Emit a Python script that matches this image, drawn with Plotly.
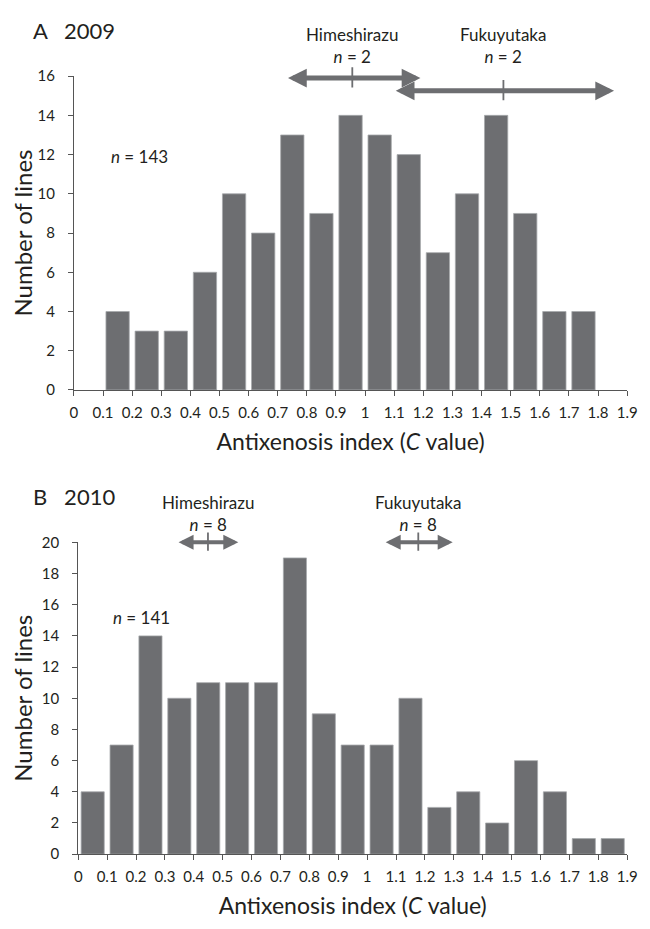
import plotly.graph_objects as go

# ---------------- data ----------------
bin_width = 0.1
bin_left_2009 = [0.1, 0.2, 0.3, 0.4, 0.5, 0.6, 0.7, 0.8, 0.9, 1.0, 1.1, 1.2, 1.3, 1.4, 1.5, 1.6, 1.7]
counts_2009 = [4, 3, 3, 6, 10, 8, 13, 9, 14, 13, 12, 7, 10, 14, 9, 4, 4]

bin_left_2010 = [0.0, 0.1, 0.2, 0.3, 0.4, 0.5, 0.6, 0.7, 0.8, 0.9, 1.0, 1.1, 1.2, 1.3, 1.4, 1.5, 1.6, 1.7, 1.8]
counts_2010 = [4, 7, 14, 10, 11, 11, 11, 19, 9, 7, 7, 10, 3, 4, 2, 6, 4, 1, 1]

tick_values = [round(i * 0.1, 1) for i in range(20)]
tick_labels = ["0", "0.1", "0.2", "0.3", "0.4", "0.5", "0.6", "0.7", "0.8", "0.9",
               "1", "1.1", "1.2", "1.3", "1.4", "1.5", "1.6", "1.7", "1.8", "1.9"]

# reference cultivars: (min, mean, max) of C value, n
cultivars = ["Himeshirazu", "Fukuyutaka"]
ref_2009_min = [0.73, 1.10]
ref_2009_mean = [0.956, 1.475]
ref_2009_max = [1.19, 1.855]
ref_2009_n = [2, 2]
ref_2010_min = [0.342, 1.059]
ref_2010_mean = [0.449, 1.177]
ref_2010_max = [0.554, 1.296]
ref_2010_n = [8, 8]

total_2009 = 143
total_2010 = 141

# ---------------- style ----------------
BAR = "#6d6e71"
TXT = "#231f20"
AX = "#555555"
FONT = "Lato, Carlito, 'Open Sans', sans-serif"
W, H = 650, 929
OFF = 8  # page body margin compensation (px)


def px_x(p):
    return (p - OFF) / W


def px_y(p):
    return 1 - (p - OFF) / H


fig = go.Figure()

centers_2009 = [b + bin_width / 2 for b in bin_left_2009]
centers_2010 = [b + bin_width / 2 for b in bin_left_2010]

fig.add_trace(go.Bar(x=centers_2009, y=counts_2009, xaxis="x", yaxis="y",
                     marker=dict(color=BAR, line=dict(color="#a7a9ac", width=0.8)),
                     showlegend=False, hoverinfo="x+y"))
fig.add_trace(go.Bar(x=centers_2010, y=counts_2010, xaxis="x2", yaxis="y2",
                     marker=dict(color=BAR, line=dict(color="#a7a9ac", width=0.8)),
                     showlegend=False, hoverinfo="x+y"))

xcommon = dict(range=[0, 1.9], tickmode="array", tickvals=tick_values, ticktext=tick_labels,
               ticks="outside", ticklen=5, tickwidth=1, tickcolor=AX, showline=True,
               linecolor=AX, linewidth=1, showgrid=False, zeroline=False,
               tickfont=dict(family=FONT, size=15, color=TXT), ticklabelstandoff=4,
               title=dict(text="Antixenosis index (<i>C</i> value)",
                          font=dict(family=FONT, size=23, color=TXT), standoff=13))
ycommon = dict(ticks="outside", ticklen=5, tickwidth=1, tickcolor=AX, showline=True,
               linecolor=AX, linewidth=1, showgrid=False, zeroline=False, dtick=2,
               tickfont=dict(family=FONT, size=15, color=TXT), ticklabelstandoff=10,
               title=dict(text="Number of lines",
                          font=dict(family=FONT, size=24, color=TXT), standoff=9))

fig.update_layout(
    width=W, height=H,
    margin=dict(l=0, r=0, t=0, b=0),
    paper_bgcolor="white", plot_bgcolor="white",
    bargap=0.2,
    font=dict(family=FONT, color=TXT),
    xaxis=dict(domain=[px_x(71.3), px_x(636.7)], anchor="y", **xcommon),
    yaxis=dict(domain=[px_y(387.3), px_y(67.3)], anchor="x", range=[0, 16], **ycommon),
    xaxis2=dict(domain=[px_x(75.7), px_x(636.7)], anchor="y2", **xcommon),
    yaxis2=dict(domain=[px_y(860.7), px_y(542.7)], anchor="x2", range=[0, 20], **ycommon),
)

ann = []
# panel labels
ann.append(dict(text="A   2009", xref="paper", yref="paper", x=px_x(27), y=px_y(21),
                xanchor="left", yanchor="middle", showarrow=False,
                font=dict(family=FONT, size=22, color=TXT)))
ann.append(dict(text="B   2010", xref="paper", yref="paper", x=px_x(27), y=px_y(496),
                xanchor="left", yanchor="middle", showarrow=False,
                font=dict(family=FONT, size=22, color=TXT)))
# totals
ann.append(dict(text=f"<i>n</i> = {total_2009}", xref="x", yref="y", x=0.224, y=11.9,
                showarrow=False, font=dict(family=FONT, size=17, color=TXT)))
ann.append(dict(text=f"<i>n</i> = {total_2010}", xref="x2", yref="y2", x=0.218, y=15.2,
                showarrow=False, font=dict(family=FONT, size=17, color=TXT)))


def add_ref(xr, yr, mins, means, maxs, ns, y_arrow, half_tick, py_label, shaft):
    for name, lo, mu, hi, n, ya in zip(cultivars, mins, means, maxs, ns, y_arrow):
        ann.append(dict(text="", xref=xr, yref=yr, axref=xr, ayref=yr,
                        x=hi, y=ya, ax=lo, ay=ya, showarrow=True,
                        arrowside="end+start", arrowhead=2, startarrowhead=2,
                        arrowsize=0.75, startarrowsize=0.75,
                        arrowwidth=shaft, arrowcolor=BAR))
        ann.append(dict(text="", xref=xr, yref=yr, axref=xr, ayref=yr,
                        x=mu, y=ya + half_tick, ax=mu, ay=ya - half_tick, showarrow=True,
                        arrowhead=0, arrowwidth=1.8, arrowcolor=BAR))
        ann.append(dict(text=f"{name}<br><i>n</i> = {n}", xref=xr, yref="paper",
                        x=mu, y=px_y(py_label), yanchor="middle", showarrow=False,
                        font=dict(family=FONT, size=17, color=TXT)))


add_ref("x", "y", ref_2009_min, ref_2009_mean, ref_2009_max, ref_2009_n,
        [15.9, 15.25], 0.55, 36, 5)
add_ref("x2", "y2", ref_2010_min, ref_2010_mean, ref_2010_max, ref_2010_n,
        [20, 20], 0.63, 513, 4)

fig.update_layout(annotations=ann)
fig.write_html("out.html")
